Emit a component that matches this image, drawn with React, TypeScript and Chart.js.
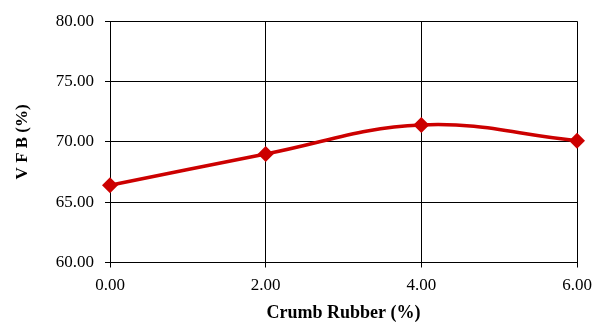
import React, { useEffect, useRef } from "react";
import { Chart, registerables } from "chart.js";

Chart.register(...registerables);

const crumbRubber = [0, 2, 4, 6];
const vfb = [66.4, 69.0, 71.4, 70.1];
const xTitle = "Crumb Rubber (%)";
const yTitle = "V F B (%)";

export default function App() {
  const ref = useRef<HTMLCanvasElement | null>(null);
  useEffect(() => {
    document.body.style.margin = "0";
    const ctx = ref.current!;
    const family = "'Liberation Serif', 'Times New Roman', serif";
    const font = { family, size: 17 };
    const chart = new Chart(ctx, {
      type: "line",
      data: {
        datasets: [
          {
            data: crumbRubber.map((x, i) => ({ x, y: vfb[i] })),
            borderColor: "#CC0000",
            backgroundColor: "#CC0000",
            borderWidth: 3.5,
            tension: 0.4,
            pointStyle: "rectRot",
            pointRadius: 8,
            pointHoverRadius: 8,
            pointBorderWidth: 0,
            clip: false,
          } as any,
        ],
      },
      options: {
        animation: false,
        responsive: false,
        events: [],
        layout: { padding: { top: 20, right: 17, left: 0, bottom: 0 } },
        plugins: { legend: { display: false }, tooltip: { enabled: false } },
        scales: {
          x: {
            type: "linear",
            min: 0,
            max: 6,
            afterFit: (s: any) => {
              s.height = 61.5;
              s.paddingRight = 0;
              s.paddingLeft = 0;
            },
            grid: { color: "#000", lineWidth: 1, tickLength: 5, drawTicks: true },
            border: { color: "#000", width: 1 },
            ticks: {
              stepSize: 2,
              color: "#000",
              font,
              padding: 8,
              maxRotation: 0,
              callback: (v: any) => Number(v).toFixed(2),
            },
            title: {
              display: true,
              text: xTitle,
              color: "#000",
              font: { family, size: 18, weight: "bold" },
              padding: { top: 0, bottom: 0 },
            },
          },
          y: {
            type: "linear",
            min: 60,
            max: 80,
            afterFit: (s: any) => { s.width = 110; },
            grid: { color: "#000", lineWidth: 1, tickLength: 5, drawTicks: true },
            border: { color: "#000", width: 1 },
            ticks: {
              stepSize: 5,
              color: "#000",
              font,
              padding: 11,
              callback: (v: any) => Number(v).toFixed(2),
            },
            title: {
              display: true,
              text: yTitle,
              color: "#000",
              font: { ...font, weight: "bold" },
              padding: { top: 12, bottom: 0 },
            },
          },
        },
      },
    } as any);
    return () => chart.destroy();
  }, []);
  return (
    <div style={{ position: "absolute", left: 0, top: 0, width: 594, height: 324 }}>
      <canvas ref={ref} width={594} height={324} style={{ width: 594, height: 324 }} />
    </div>
  );
}
